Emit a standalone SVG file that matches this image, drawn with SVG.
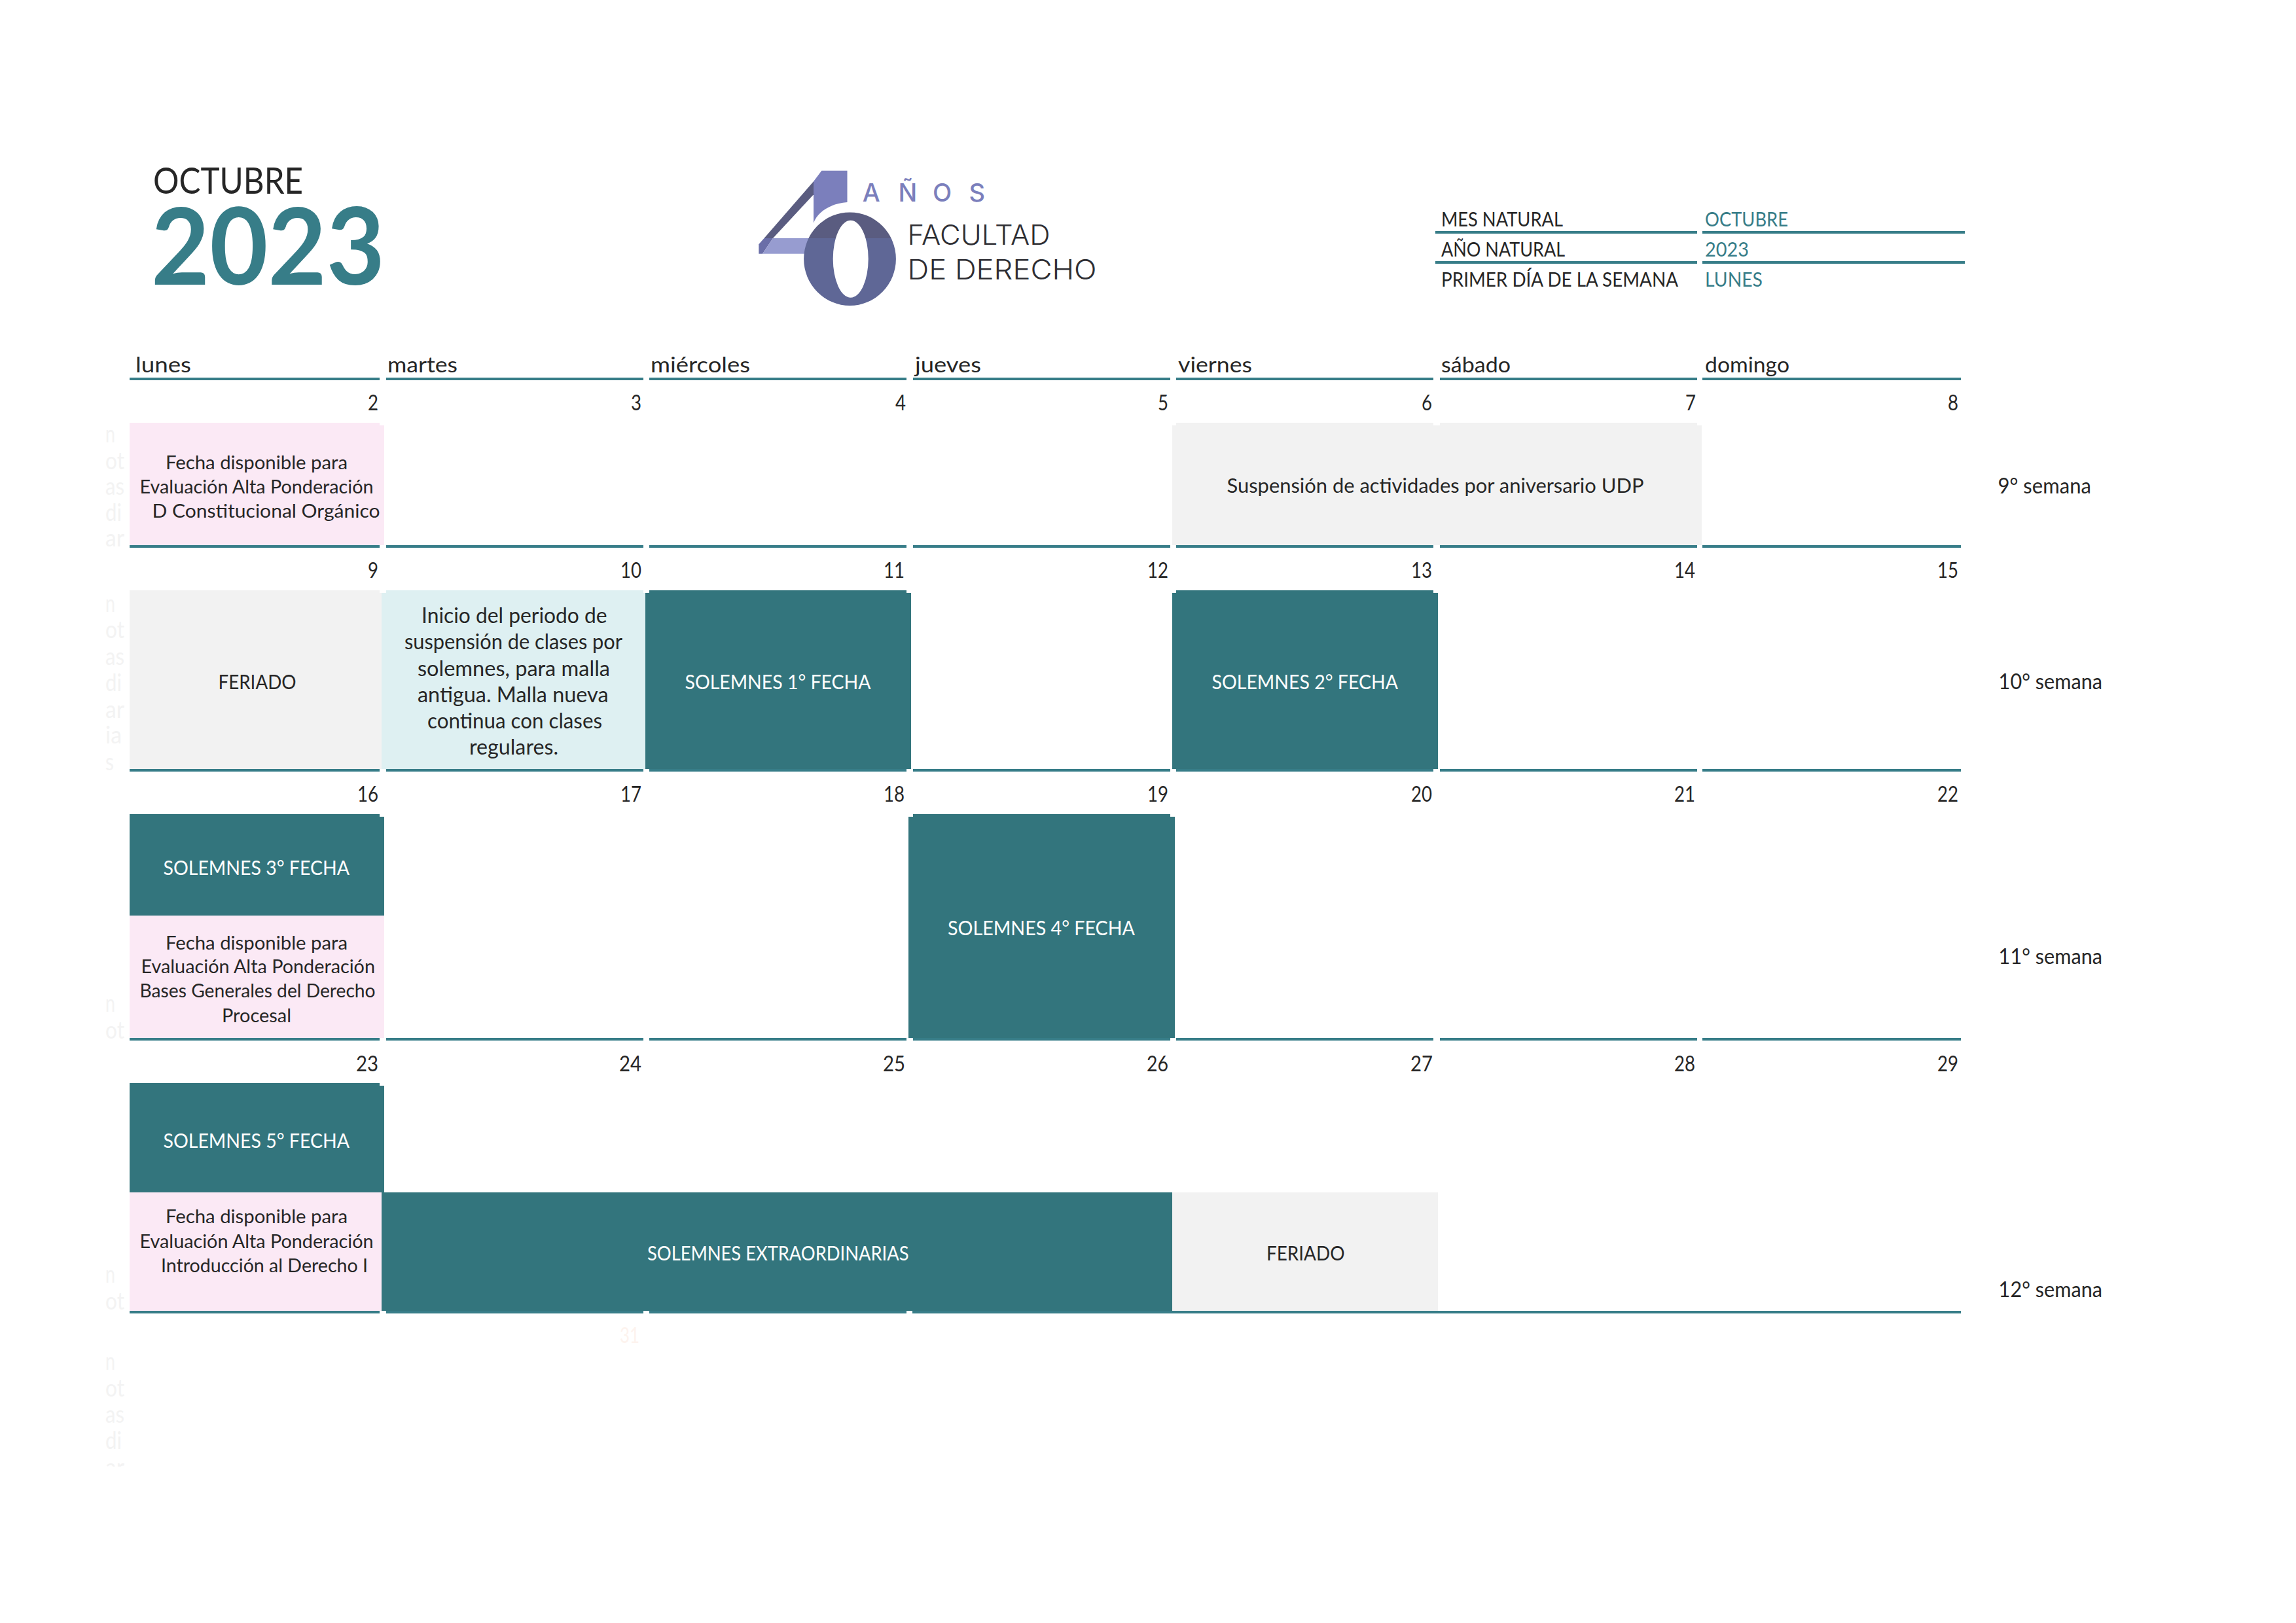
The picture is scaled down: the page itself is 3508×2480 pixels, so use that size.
<svg xmlns="http://www.w3.org/2000/svg" width="3508" height="2480" viewBox="0 0 3508 2480">
<style>
text{font-family:"Lato","Liberation Sans",sans-serif;fill:#262626;transform:translateY(1px)}
.day,.wk,.sem{font-size:32px}
.num{font-size:32px;transform:translate(1px,1px)}
.info{font-size:31px}
.val{font-size:31px;fill:#377d88}
.sm{font-size:29px}
.big{font-size:33px}
.mid{font-size:31px}
.w{font-size:30px;fill:#fff}
.gh{font-size:36px;fill:#f3f3f3}
.dark{fill:#33757d}
.pink{fill:#fbe9f5}
.gray{fill:#f2f2f2}
.blue{fill:#def0f2}
.ln{fill:#377d88}
.logo{font-family:"Inter","Liberation Sans",sans-serif;font-size:42px;font-weight:300;fill:#2e2e33}
</style>
<defs>
<clipPath id="topc"><rect x="1200" y="300" width="200" height="64"/></clipPath>
<clipPath id="botc"><rect x="1200" y="364" width="200" height="120"/></clipPath>
<clipPath id="ghostc"><rect x="150" y="2050" width="45" height="191"/></clipPath>
</defs>
<rect width="3508" height="2480" fill="#fff"/>

<g id="title">
<text x="234" y="295" font-size="57" textLength="229" lengthAdjust="spacingAndGlyphs">OCTUBRE</text>
<text x="231" y="434" font-size="163" font-weight="700" style="fill:#377d88" textLength="357" lengthAdjust="spacingAndGlyphs">2023</text>
</g>

<g id="logo">
<path fill="#7b7fbc" d="M1255.4 260.7H1294.5V309C1270 311 1250 322 1243 340.7V277.3Z"/>
<path fill="#5a5c80" d="M1243 277.3V297.3L1181 364H1167.5Z"/>
<path fill="#6a6ea8" d="M1167.5 364L1159.3 373.3V387.7H1165L1181 364Z"/>
<path fill="#979cd0" d="M1181 364H1240V387.7H1165Z"/>
<path clip-path="url(#topc)" fill="#5a5c80" fill-rule="evenodd" d="M1228.1 395.7a70.4 71.3 0 1 0 140.8 0a70.4 71.3 0 1 0 -140.8 0ZM1272.7 395.7a27 59 0 1 0 54 0a27 59 0 1 0 -54 0Z"/>
<path clip-path="url(#botc)" fill="#5f6796" fill-rule="evenodd" d="M1228.1 395.7a70.4 71.3 0 1 0 140.8 0a70.4 71.3 0 1 0 -140.8 0ZM1272.7 395.7a27 59 0 1 0 54 0a27 59 0 1 0 -54 0Z"/>
<text x="1317.7 1372.6 1425 1480.6" y="307" font-size="38" font-weight="500" style="font-family:Inter,'Liberation Sans',sans-serif;fill:#7b7fbc">AÑOS</text>
<text class="logo" x="1386.5" y="373" textLength="218" lengthAdjust="spacingAndGlyphs">FACULTAD</text>
<text class="logo" x="1386.5" y="426" textLength="289" lengthAdjust="spacingAndGlyphs">DE DERECHO</text>
</g>

<g id="info-table">
<text class="info" x="2202" y="345" textLength="186" lengthAdjust="spacingAndGlyphs">MES NATURAL</text>
<text class="val" x="2605" y="345" textLength="127" lengthAdjust="spacingAndGlyphs">OCTUBRE</text>
<text class="info" x="2202" y="391" textLength="189" lengthAdjust="spacingAndGlyphs">AÑO NATURAL</text>
<text class="val" x="2605" y="391" textLength="67" lengthAdjust="spacingAndGlyphs">2023</text>
<text class="info" x="2202" y="437" textLength="362" lengthAdjust="spacingAndGlyphs">PRIMER DÍA DE LA SEMANA</text>
<text class="val" x="2605" y="437" textLength="88" lengthAdjust="spacingAndGlyphs">LUNES</text>
</g>

<g id="weekdays">
<text class="wk" x="207" y="568" textLength="85" lengthAdjust="spacingAndGlyphs">lunes</text>
<text class="wk" x="592" y="568" textLength="107" lengthAdjust="spacingAndGlyphs">martes</text>
<text class="wk" x="994" y="568" textLength="152" lengthAdjust="spacingAndGlyphs">miércoles</text>
<text class="wk" x="1398" y="568" textLength="101" lengthAdjust="spacingAndGlyphs">jueves</text>
<text class="wk" x="1800" y="568" textLength="113" lengthAdjust="spacingAndGlyphs">viernes</text>
<text class="wk" x="2202" y="568" textLength="106" lengthAdjust="spacingAndGlyphs">sábado</text>
<text class="wk" x="2605" y="568" textLength="129" lengthAdjust="spacingAndGlyphs">domingo</text>
</g>

<g id="ghost-notes">
<text class="gh" x="161" y="675" textLength="15" lengthAdjust="spacingAndGlyphs">n</text>
<text class="gh" x="161" y="716" textLength="29" lengthAdjust="spacingAndGlyphs">ot</text>
<text class="gh" x="161" y="755" textLength="29" lengthAdjust="spacingAndGlyphs">as</text>
<text class="gh" x="161" y="795" textLength="25" lengthAdjust="spacingAndGlyphs">di</text>
<text class="gh" x="161" y="834" textLength="29" lengthAdjust="spacingAndGlyphs">ar</text>
<text class="gh" x="161" y="934" textLength="15" lengthAdjust="spacingAndGlyphs">n</text>
<text class="gh" x="161" y="974" textLength="29" lengthAdjust="spacingAndGlyphs">ot</text>
<text class="gh" x="161" y="1015" textLength="29" lengthAdjust="spacingAndGlyphs">as</text>
<text class="gh" x="161" y="1055" textLength="25" lengthAdjust="spacingAndGlyphs">di</text>
<text class="gh" x="161" y="1096" textLength="29" lengthAdjust="spacingAndGlyphs">ar</text>
<text class="gh" x="161" y="1135" textLength="25" lengthAdjust="spacingAndGlyphs">ia</text>
<text class="gh" x="161" y="1176" textLength="13" lengthAdjust="spacingAndGlyphs">s</text>
<text class="gh" x="161" y="1545" textLength="15" lengthAdjust="spacingAndGlyphs">n</text>
<text class="gh" x="161" y="1586" textLength="29" lengthAdjust="spacingAndGlyphs">ot</text>
<text class="gh" x="161" y="1959" textLength="15" lengthAdjust="spacingAndGlyphs">n</text>
<text class="gh" x="161" y="2000" textLength="29" lengthAdjust="spacingAndGlyphs">ot</text>
<text class="gh" x="161" y="2092" textLength="15" lengthAdjust="spacingAndGlyphs">n</text>
<text class="gh" x="161" y="2133" textLength="29" lengthAdjust="spacingAndGlyphs">ot</text>
<text class="gh" x="161" y="2173" textLength="29" lengthAdjust="spacingAndGlyphs">as</text>
<text class="gh" x="161" y="2213" textLength="25" lengthAdjust="spacingAndGlyphs">di</text>
<g clip-path="url(#ghostc)"><text class="gh" x="161" y="2254" textLength="29" lengthAdjust="spacingAndGlyphs">ar</text></g>
<text x="947" y="2051" font-size="32" style="fill:#fdf3ee" textLength="30" lengthAdjust="spacingAndGlyphs">31</text>
</g>

<g id="cell-eval-2">
<path class="pink" d="M198 646H580V650H587V833H198Z"/>
<text class="sm" x="253" y="716" textLength="278" lengthAdjust="spacingAndGlyphs">Fecha disponible para</text>
<text class="sm" x="213.6" y="753" textLength="357" lengthAdjust="spacingAndGlyphs">Evaluación Alta Ponderación</text>
<text class="sm" x="232.5" y="790" textLength="348" lengthAdjust="spacingAndGlyphs">D Constitucional Orgánico</text>
</g>
<g id="cell-suspension">
<path class="gray" d="M1797 646H2190V650H2200V646H2593V650H2600V833H1791V650H1797Z"/>
<text class="mid" x="1874.5" y="752" textLength="637" lengthAdjust="spacingAndGlyphs">Suspensión de actividades por aniversario UDP</text>
</g>
<g id="cell-feriado-9">
<path class="gray" d="M198 902H580V906H583V1175H198Z"/>
<text class="mid" x="333.5" y="1052" textLength="119" lengthAdjust="spacingAndGlyphs">FERIADO</text>
</g>
<g id="cell-inicio">
<path class="blue" d="M590 902H983V906H986V1175H583V906H590Z"/>
<text class="big" x="644" y="951" textLength="283.6" lengthAdjust="spacingAndGlyphs">Inicio del periodo de</text>
<text class="big" x="618" y="991" textLength="333" lengthAdjust="spacingAndGlyphs">suspensión de clases por</text>
<text class="big" x="638" y="1032" textLength="294" lengthAdjust="spacingAndGlyphs">solemnes, para malla</text>
<text class="big" x="638" y="1072" textLength="291.5" lengthAdjust="spacingAndGlyphs">antigua. Malla nueva</text>
<text class="big" x="653" y="1112" textLength="267" lengthAdjust="spacingAndGlyphs">continua con clases</text>
<text class="big" x="717" y="1152" textLength="136" lengthAdjust="spacingAndGlyphs">regulares.</text>
</g>
<g id="cell-solemnes-1">
<path class="dark" d="M992 902H1385V906H1392V1175H986V906H992Z"/>
<text class="w" x="1046.5" y="1052" textLength="284" lengthAdjust="spacingAndGlyphs">SOLEMNES 1° FECHA</text>
</g>
<g id="cell-solemnes-2">
<path class="dark" d="M1797 902H2190V906H2197V1175H1791V906H1797Z"/>
<text class="w" x="1851.5" y="1052" textLength="284.5" lengthAdjust="spacingAndGlyphs">SOLEMNES 2° FECHA</text>
</g>
<g id="cell-solemnes-3">
<path class="dark" d="M198 1244H580V1248H587V1399H198Z"/>
<text class="w" x="249.5" y="1336" textLength="284.5" lengthAdjust="spacingAndGlyphs">SOLEMNES 3° FECHA</text>
</g>
<g id="cell-eval-16">
<rect class="pink" x="198" y="1399" width="389" height="187"/>
<text class="sm" x="253" y="1450" textLength="278" lengthAdjust="spacingAndGlyphs">Fecha disponible para</text>
<text class="sm" x="215.5" y="1486" textLength="357.5" lengthAdjust="spacingAndGlyphs">Evaluación Alta Ponderación</text>
<text class="sm" x="213.6" y="1523" textLength="360" lengthAdjust="spacingAndGlyphs">Bases Generales del Derecho</text>
<text class="sm" x="339" y="1561" textLength="106" lengthAdjust="spacingAndGlyphs">Procesal</text>
</g>
<g id="cell-solemnes-4">
<path class="dark" d="M1395 1244H1788V1248H1795V1586H1388V1248H1395Z"/>
<text class="w" x="1448" y="1428" textLength="286" lengthAdjust="spacingAndGlyphs">SOLEMNES 4° FECHA</text>
</g>
<g id="cell-solemnes-5">
<path class="dark" d="M198 1655H580V1659H587V1822H198Z"/>
<text class="w" x="249.5" y="1753" textLength="284.5" lengthAdjust="spacingAndGlyphs">SOLEMNES 5° FECHA</text>
</g>
<g id="cell-eval-23">
<rect class="pink" x="198" y="1822" width="385" height="181"/>
<text class="sm" x="253" y="1868" textLength="278" lengthAdjust="spacingAndGlyphs">Fecha disponible para</text>
<text class="sm" x="213.6" y="1906" textLength="357" lengthAdjust="spacingAndGlyphs">Evaluación Alta Ponderación</text>
<text class="sm" x="246" y="1943" textLength="316" lengthAdjust="spacingAndGlyphs">Introducción al Derecho I</text>
</g>
<g id="cell-extra">
<rect class="dark" x="583" y="1822" width="1208" height="181"/>
<text class="w" x="989" y="1925" textLength="399.5" lengthAdjust="spacingAndGlyphs">SOLEMNES EXTRAORDINARIAS</text>
</g>
<g id="cell-feriado-27">
<rect class="gray" x="1791" y="1822" width="406" height="181"/>
<text class="mid" x="1935" y="1925" textLength="119.5" lengthAdjust="spacingAndGlyphs">FERIADO</text>
</g>

<g id="day-numbers">
<text class="num" x="561" y="626" textLength="16" lengthAdjust="spacingAndGlyphs">2</text>
<text class="num" x="963" y="626" textLength="16" lengthAdjust="spacingAndGlyphs">3</text>
<text class="num" x="1367" y="626" textLength="16" lengthAdjust="spacingAndGlyphs">4</text>
<text class="num" x="1768" y="626" textLength="16" lengthAdjust="spacingAndGlyphs">5</text>
<text class="num" x="2171" y="626" textLength="16" lengthAdjust="spacingAndGlyphs">6</text>
<text class="num" x="2574" y="626" textLength="16" lengthAdjust="spacingAndGlyphs">7</text>
<text class="num" x="2975" y="626" textLength="16" lengthAdjust="spacingAndGlyphs">8</text>
<text class="num" x="561" y="882" textLength="16" lengthAdjust="spacingAndGlyphs">9</text>
<text class="num" x="947" y="882" textLength="32" lengthAdjust="spacingAndGlyphs">10</text>
<text class="num" x="1349" y="882" textLength="32" lengthAdjust="spacingAndGlyphs">11</text>
<text class="num" x="1752" y="882" textLength="32" lengthAdjust="spacingAndGlyphs">12</text>
<text class="num" x="2155" y="882" textLength="32" lengthAdjust="spacingAndGlyphs">13</text>
<text class="num" x="2557" y="882" textLength="32" lengthAdjust="spacingAndGlyphs">14</text>
<text class="num" x="2959" y="882" textLength="32" lengthAdjust="spacingAndGlyphs">15</text>
<text class="num" x="545" y="1224" textLength="32" lengthAdjust="spacingAndGlyphs">16</text>
<text class="num" x="947" y="1224" textLength="32" lengthAdjust="spacingAndGlyphs">17</text>
<text class="num" x="1349" y="1224" textLength="32" lengthAdjust="spacingAndGlyphs">18</text>
<text class="num" x="1752" y="1224" textLength="32" lengthAdjust="spacingAndGlyphs">19</text>
<text class="num" x="2155" y="1224" textLength="32" lengthAdjust="spacingAndGlyphs">20</text>
<text class="num" x="2557" y="1224" textLength="32" lengthAdjust="spacingAndGlyphs">21</text>
<text class="num" x="2959" y="1224" textLength="32" lengthAdjust="spacingAndGlyphs">22</text>
<text class="num" x="543" y="1636" textLength="34" lengthAdjust="spacingAndGlyphs">23</text>
<text class="num" x="945" y="1636" textLength="34" lengthAdjust="spacingAndGlyphs">24</text>
<text class="num" x="1348" y="1636" textLength="34" lengthAdjust="spacingAndGlyphs">25</text>
<text class="num" x="1751" y="1636" textLength="33" lengthAdjust="spacingAndGlyphs">26</text>
<text class="num" x="2154" y="1636" textLength="34" lengthAdjust="spacingAndGlyphs">27</text>
<text class="num" x="2557" y="1636" textLength="32" lengthAdjust="spacingAndGlyphs">28</text>
<text class="num" x="2959" y="1636" textLength="32" lengthAdjust="spacingAndGlyphs">29</text>
</g>

<g id="week-labels">
<text class="sem" x="3052.5" y="753" textLength="142.5" lengthAdjust="spacingAndGlyphs">9° semana</text>
<text class="sem" x="3053.6" y="1052" textLength="158.5" lengthAdjust="spacingAndGlyphs">10° semana</text>
<text class="sem" x="3053.6" y="1472" textLength="158.5" lengthAdjust="spacingAndGlyphs">11° semana</text>
<text class="sem" x="3053.6" y="1981" textLength="158.5" lengthAdjust="spacingAndGlyphs">12° semana</text>
</g>

<g id="connectors">
<rect class="ln" x="2193" y="353" width="400" height="4"/><rect class="ln" x="2601" y="353" width="401" height="4"/>
<rect class="ln" x="2193" y="399" width="400" height="4"/><rect class="ln" x="2601" y="399" width="401" height="4"/>
<path class="ln" d="M198 577H580V581H198ZM590 577H983V581H590ZM992 577H1385V581H992ZM1395 577H1788V581H1395ZM1797 577H2190V581H1797ZM2200 577H2593V581H2200ZM2601 577H2996V581H2601Z"/>
<path class="ln" d="M198 833H580V837H198ZM590 833H983V837H590ZM992 833H1385V837H992ZM1395 833H1788V837H1395ZM1797 833H2190V837H1797ZM2200 833H2593V837H2200ZM2601 833H2996V837H2601Z"/>
<path class="ln" d="M198 1175H580V1179H198ZM590 1175H983V1179H590ZM992 1175H1385V1179H992ZM1395 1175H1788V1179H1395ZM1797 1175H2190V1179H1797ZM2200 1175H2593V1179H2200ZM2601 1175H2996V1179H2601Z"/>
<path class="ln" d="M198 1586H580V1590H198ZM590 1586H983V1590H590ZM992 1586H1385V1590H992ZM1395 1586H1788V1590H1395ZM1797 1586H2190V1590H1797ZM2200 1586H2593V1590H2200ZM2601 1586H2996V1590H2601Z"/>
<path class="ln" d="M198 2003H580V2007H198ZM590 2003H983V2007H590ZM992 2003H1385V2007H992ZM1394 2003H2996V2007H1394Z"/>
</g>
</svg>
